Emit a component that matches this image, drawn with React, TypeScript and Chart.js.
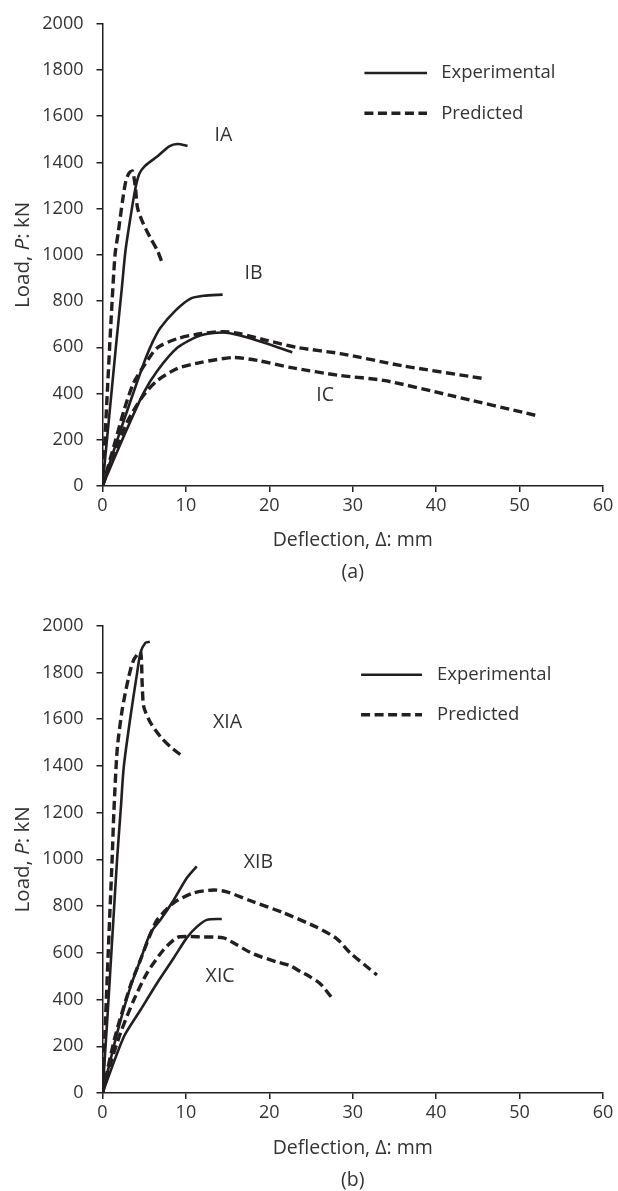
import { useEffect, useRef } from "react";
import { Chart, registerables } from "chart.js";

Chart.register(...registerables);

type Pt = [number, number];

// ---- axis ticks ----
const X_TICKS = [0, 10, 20, 30, 40, 50, 60];
const P_TICKS = [0, 200, 400, 600, 800, 1000, 1200, 1400, 1600, 1800, 2000];

// ---- panel (a) series: [deflection mm, load kN] ----
const IA_EXP: Pt[] = [
  [0, 0], [0.8, 300], [1.6, 600], [2.3, 850], [2.75, 1017], [3.3, 1150], [3.9, 1280],
  [4.4, 1350], [5.1, 1385], [6.6, 1427], [8.0, 1470], [9.0, 1480], [10.2, 1472],
];
const IA_PRED: Pt[] = [
  [0, 0], [0.5, 350], [1.0, 700], [1.5, 1000], [1.9, 1100], [2.4, 1233], [2.8, 1320],
  [3.2, 1355], [3.6, 1362], [3.95, 1290], [4.2, 1203], [4.9, 1134], [5.75, 1073],
  [6.6, 1017], [7.2, 961],
];
const IB_EXP: Pt[] = [
  [0, 0], [1.5, 170], [3, 330], [4.2, 455], [5.2, 555], [6.1, 630], [6.95, 685], [8.74, 759],
  [10.5, 810], [12.1, 823], [14.4, 828],
];
const IB_PRED: Pt[] = [
  [0, 0], [1.5, 190], [2.6, 330], [3.7, 444], [5.15, 530], [6.6, 599], [9, 638],
  [11.7, 659], [14.5, 668], [16.5, 659], [19.8, 629], [23.4, 599], [28.5, 573],
  [36, 520], [45.5, 466],
];
const IC_EXP: Pt[] = [
  [0, 0], [2.5, 211], [4.9, 401], [6.6, 500], [9, 599], [11.7, 651], [14.5, 664],
  [16.5, 651], [19.3, 621], [22.75, 578],
];
const IC_PRED: Pt[] = [
  [0, 0], [1.5, 150], [3, 280], [4.9, 392], [6.6, 457], [9, 509], [11.7, 534],
  [15.7, 556], [18.6, 543], [22.5, 513], [28.5, 478], [33.7, 457], [41.7, 392],
  [51.9, 306],
];

// ---- panel (b) series ----
const XIA_EXP: Pt[] = [
  [0, 0], [0.6, 330], [1.2, 680], [1.76, 1006], [2.2, 1220], [2.55, 1396], [3.35, 1610],
  [4.15, 1798], [4.55, 1884], [5.15, 1927], [5.67, 1931],
];
const XIA_PRED: Pt[] = [
  [0, 0], [0.4, 350], [0.8, 700], [1.16, 1006], [1.36, 1200], [1.76, 1469], [2.36, 1640],
  [3.15, 1782], [3.75, 1854], [4.55, 1889], [4.75, 1756], [4.95, 1653], [5.75, 1585],
  [6.95, 1525], [8.14, 1482], [9.66, 1439],
];
const XIB_EXP: Pt[] = [
  [0, 0], [1.76, 257], [3.35, 454], [4.55, 570], [5.75, 685], [6.95, 741], [8.54, 826],
  [10.1, 920], [11.3, 970],
];
const XIB_PRED: Pt[] = [
  [0, 0], [1.5, 240], [3.35, 460], [4.55, 570], [5.75, 680], [6.55, 741], [8.54, 814],
  [10.9, 856], [13.3, 869], [14.9, 861], [17.5, 826], [21.7, 771], [25.7, 709],
  [28.1, 660], [29.7, 600], [32.9, 505],
];
const XIC_EXP: Pt[] = [
  [0, 0], [2.55, 240], [4.55, 355], [6.55, 471], [8.54, 578], [10.1, 664], [11.3, 711],
  [12.5, 741], [14.3, 745],
];
const XIC_PRED: Pt[] = [
  [0, 0], [1, 130], [2.16, 257], [3.75, 398], [5.35, 514], [7.3, 612], [8.9, 665],
  [10.1, 670], [11.7, 668], [14.5, 664], [16.1, 634], [18.1, 595], [20.9, 561],
  [22.5, 545], [23.7, 520], [24.9, 497], [26.1, 468], [27.4, 412],
];

const FONT = "'Open Sans', 'Noto Sans', sans-serif";
const INK = "#231f20";
const TEXT = "#333333";

interface Label { text: string; x: number; y: number }
interface Panel {
  series: { data: Pt[]; dashed: boolean }[];
  labels: Label[];
  legend: { x0: number; x1: number; tx: number; yExp: number; yPred: number };
  caption: string;
  height: number;
  top: number;
  bottom: number;
  titleOff: number;
  capOff: number;
}

const PANELS: Panel[] = [
  {
    series: [
      { data: IA_EXP, dashed: false }, { data: IA_PRED, dashed: true },
      { data: IB_EXP, dashed: false }, { data: IB_PRED, dashed: true },
      { data: IC_EXP, dashed: false }, { data: IC_PRED, dashed: true },
    ],
    labels: [
      { text: "IA", x: 14.5, y: 1516 },
      { text: "IB", x: 18.1, y: 920 },
      { text: "IC", x: 26.7, y: 393 },
    ],
    legend: { x0: 31.4, x1: 38.9, tx: 40.6, yExp: 1787, yPred: 1613 },
    caption: "(a)",
    height: 600,
    top: 22.7,
    bottom: 486,
    titleOff: 54,
    capOff: 86,
  },
  {
    series: [
      { data: XIA_EXP, dashed: false }, { data: XIA_PRED, dashed: true },
      { data: XIB_EXP, dashed: false }, { data: XIB_PRED, dashed: true },
      { data: XIC_EXP, dashed: false }, { data: XIC_PRED, dashed: true },
    ],
    labels: [
      { text: "XIA", x: 15, y: 1585 },
      { text: "XIB", x: 18.7, y: 985 },
      { text: "XIC", x: 14.1, y: 497 },
    ],
    legend: { x0: 31.0, x1: 38.3, tx: 40.1, yExp: 1790, yPred: 1619 },
    caption: "(b)",
    height: 591,
    top: 25.7,
    bottom: 493,
    titleOff: 55,
    capOff: 87,
  },
];

const LEFT = 102.5;
const RIGHT = 603;
const W = 618;
const DASH = [9, 4.5];

function buildChart(canvas: HTMLCanvasElement, p: Panel) {
  const deco = {
    id: "deco",
    afterDraw(chart: any) {
      const ctx: CanvasRenderingContext2D = chart.ctx;
      const xs = chart.scales.x;
      const ys = chart.scales.y;
      const area = chart.chartArea;
      ctx.save();
      ctx.fillStyle = TEXT;
      ctx.textBaseline = "middle";
      // curve labels
      ctx.font = `19.5px ${FONT}`;
      ctx.textAlign = "center";
      for (const l of p.labels) {
        ctx.fillText(l.text, xs.getPixelForValue(l.x), ys.getPixelForValue(l.y));
      }
      // legend
      const lx0 = xs.getPixelForValue(p.legend.x0);
      const lx1 = xs.getPixelForValue(p.legend.x1);
      const ye = ys.getPixelForValue(p.legend.yExp);
      const yp = ys.getPixelForValue(p.legend.yPred);
      ctx.strokeStyle = INK;
      ctx.lineWidth = 2.6;
      ctx.setLineDash([]);
      ctx.beginPath();
      ctx.moveTo(lx0, ye);
      ctx.lineTo(lx1, ye);
      ctx.stroke();
      ctx.lineWidth = 3.4;
      ctx.setLineDash(DASH);
      ctx.beginPath();
      ctx.moveTo(lx0, yp);
      ctx.lineTo(lx1, yp);
      ctx.stroke();
      ctx.setLineDash([]);
      ctx.textAlign = "left";
      ctx.font = `18.5px ${FONT}`;
      const tx = xs.getPixelForValue(p.legend.tx);
      ctx.fillText("Experimental", tx, ye);
      ctx.fillText("Predicted", tx, yp);
      // x title and caption
      const cx = (area.left + area.right) / 2;
      ctx.textAlign = "center";
      ctx.font = `19.5px ${FONT}`;
      ctx.fillText("Deflection, \u0394: mm", cx, area.bottom + p.titleOff);
      ctx.fillText(p.caption, cx, area.bottom + p.capOff);
      // y title with italic P
      const sz = 20.5;
      const parts = [
        { t: "Load, ", f: `${sz}px ${FONT}` },
        { t: "P", f: `italic ${sz}px ${FONT}` },
        { t: ": kN", f: `${sz}px ${FONT}` },
      ];
      let total = 0;
      const widths = parts.map((pt) => {
        ctx.font = pt.f;
        const w = ctx.measureText(pt.t).width;
        total += w;
        return w;
      });
      ctx.translate(23, (area.top + area.bottom) / 2);
      ctx.rotate(-Math.PI / 2);
      ctx.textAlign = "left";
      let pos = -total / 2;
      parts.forEach((pt, i) => {
        ctx.font = pt.f;
        ctx.fillText(pt.t, pos, 0);
        pos += widths[i];
      });
      ctx.restore();
    },
  };

  return new Chart(canvas, {
    type: "scatter",
    data: {
      datasets: p.series.map((s) => ({
        data: s.data.map(([x, y]) => ({ x, y })),
        showLine: true,
        borderColor: INK,
        borderWidth: s.dashed ? 3.4 : 2.6,
        borderDash: s.dashed ? DASH : [],
        pointRadius: 0,
        tension: 0.25,
        fill: false,
      })),
    },
    options: {
      animation: false,
      responsive: false,
      maintainAspectRatio: false,
      devicePixelRatio: 1,
      layout: { padding: { left: 0, right: W - RIGHT, top: p.top, bottom: 0 } },
      plugins: { legend: { display: false }, tooltip: { enabled: false } },
      scales: {
        x: {
          type: "linear",
          min: 0,
          max: 60,
          afterBuildTicks: (axis: any) => {
            axis.ticks = X_TICKS.map((v) => ({ value: v }));
          },
          afterFit: (scale: any) => {
            scale.height = p.height - p.bottom;
          },
          grid: { drawOnChartArea: false, drawTicks: true, tickLength: 6, color: INK, lineWidth: 1.5 },
          border: { display: true, color: INK, width: 1.5 },
          ticks: {
            color: TEXT, font: { family: FONT, size: 18 }, padding: 3, maxRotation: 0,
            callback: (v: any) => String(v),
          },
        },
        y: {
          type: "linear",
          min: 0,
          max: 2000,
          afterBuildTicks: (axis: any) => {
            axis.ticks = P_TICKS.map((v) => ({ value: v }));
          },
          afterFit: (scale: any) => {
            scale.width = LEFT;
          },
          grid: { drawOnChartArea: false, drawTicks: true, tickLength: 6, color: INK, lineWidth: 1.5 },
          border: { display: true, color: INK, width: 1.5 },
          ticks: {
            color: TEXT, font: { family: FONT, size: 18 }, padding: 13,
            callback: (v: any) => String(v),
          },
        },
      },
    },
    plugins: [deco],
  } as any);
}

export default function App() {
  const ref1 = useRef<HTMLCanvasElement>(null);
  const ref2 = useRef<HTMLCanvasElement>(null);
  useEffect(() => {
    const c1 = buildChart(ref1.current!, PANELS[0]);
    const c2 = buildChart(ref2.current!, PANELS[1]);
    return () => {
      c1.destroy();
      c2.destroy();
    };
  }, []);
  return (
    <div style={{ position: "absolute", left: 0, top: 0, width: W, height: 1191, background: "#fff" }}>
      <canvas ref={ref1} width={W} height={PANELS[0].height} style={{ position: "absolute", left: 0, top: 0, width: W, height: PANELS[0].height }} />
      <canvas ref={ref2} width={W} height={PANELS[1].height} style={{ position: "absolute", left: 0, top: PANELS[0].height, width: W, height: PANELS[1].height }} />
    </div>
  );
}
